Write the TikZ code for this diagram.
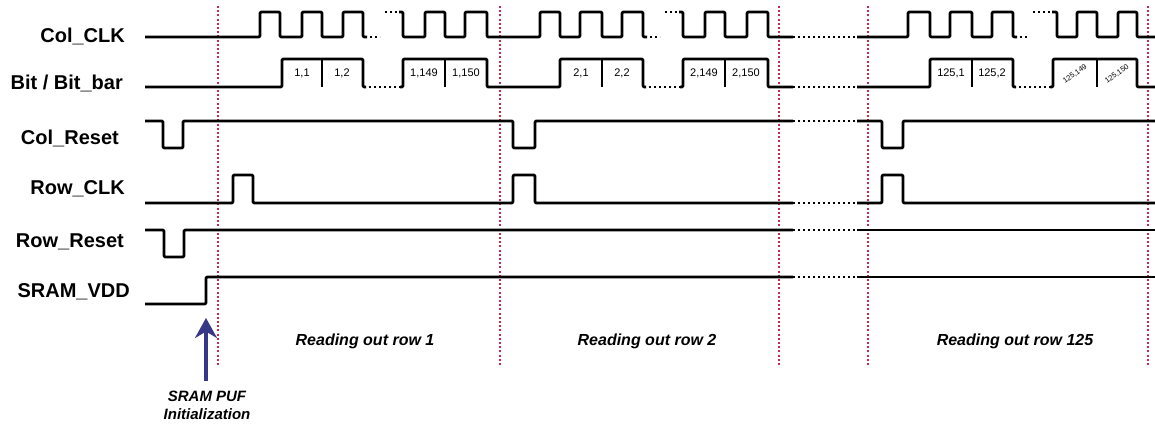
\documentclass[tikz,border=0pt]{standalone}
\usepackage{fontspec}
\setmainfont{Liberation Sans}
\usetikzlibrary{arrows.meta}
\definecolor{rowred}{RGB}{200,40,80}
\definecolor{arrowblue}{RGB}{55,55,135}
\tikzset{
  signal/.style={line width=2.8pt, line join=round, rounded corners=1.2pt},
  brk/.style={line width=2.8pt, dash pattern=on 2.4pt off 2.6pt},
  rowline/.style={rowred, line width=2pt, dash pattern=on 2pt off 2.2pt},
  siglabel/.style={anchor=base east, inner sep=0pt, font=\fontsize{20}{24}\selectfont\bfseries},
  cellnum/.style={inner sep=0pt, font=\fontsize{11}{13}\selectfont},
  cellrot/.style={inner sep=0pt, rotate=35, font=\fontsize{7.5}{9}\selectfont},
  caption/.style={inner sep=0pt, font=\fontsize{16}{19}\selectfont\bfseries\itshape},
}
\begin{document}
\begin{tikzpicture}[x=1pt, y=-1pt]
    \useasboundingbox (0,0) rectangle (1155,425);

    % 信号名称
    \node[siglabel] (lclk)   at (125,43)  {Col\_CLK};
    \node[siglabel] (lbit)   at (123,90)  {Bit / Bit\_bar};
    \node[siglabel] (lcrst)  at (119,144) {Col\_Reset};
    \node[siglabel] (lrclk)  at (125,194) {Row\_CLK};
    \node[siglabel] (lrrst)  at (124,247) {Row\_Reset};
    \node[siglabel] (lvdd)   at (130,297) {SRAM\_VDD};

    % 行分隔线（红色点线）
    \foreach \x in {218,500,779,868,1148}
        \draw[rowline] (\x,6) -- (\x,365);

    % Col_CLK
    \draw[signal] (145,37) -| (260,12) -| (280,37) -| (302,12) -| (322,37) -| (343,12) -| (363,37) -- (367,37);
    \draw[brk] (370,37) -- (380,37);
    \draw[brk] (385,12) -- (399,12);
    \draw[signal] (399,12) -| (403,37) -| (425,12) -| (445,37) -| (465,12) -| (487,37)
        -| (540,12) -| (560,37) -| (580,12) -| (602,37) -| (622,12) -| (643,37) -- (647,37);
    \draw[brk] (650,37) -- (660,37);
    \draw[brk] (665,12) -- (679,12);
    \draw[signal] (679,12) -| (683,37) -| (705,12) -| (725,37) -| (747,12) -| (768,37) -- (793,37);
    \draw[brk] (793,37) -- (857,37);
    \draw[signal] (857,37) -| (908,12) -| (930,37) -| (950,12) -| (972,37) -| (992,12) -| (1013,37) -- (1017,37);
    \draw[brk] (1020,37) -- (1028,37);
    \draw[brk] (1033,12) -- (1052,12);
    \draw[signal] (1052,12) -| (1057,37) -| (1077,12) -| (1097,37) -| (1118,12) -| (1137,37) -- (1155,37);

    % Bit / Bit_bar
    \draw[signal] (145,87) -| (282,59) -| (363,87) -- (366,87);
    \draw[brk] (369,87) -- (400,87);
    \draw[signal] (400,87) -| (403,59) -| (487,87) -| (560,59) -| (643,87) -- (646,87);
    \draw[brk] (649,87) -- (680,87);
    \draw[signal] (680,87) -| (683,59) -| (768,87) -- (793,87);
    \draw[brk] (793,87) -- (857,87);
    \draw[signal] (857,87) -| (930,59) -| (1013,87) -- (1016,87);
    \draw[brk] (1019,87) -- (1050,87);
    \draw[signal] (1050,87) -| (1053,59) -| (1137,87) -- (1155,87);
    \foreach \x in {322,445,602,725,972,1097}
        \draw[signal] (\x,87) -- (\x,59);

    % 单元编号
    \node[cellnum] (c11)   at (302,73)  {1,1};
    \node[cellnum] (c12)   at (342,73)  {1,2};
    \node[cellnum] (c1a)   at (424,73)  {1,149};
    \node[cellnum] (c1b)   at (466,73)  {1,150};
    \node[cellnum] (c21)   at (581,73)  {2,1};
    \node[cellnum] (c22)   at (622,73)  {2,2};
    \node[cellnum] (c2a)   at (704,73)  {2,149};
    \node[cellnum] (c2b)   at (746,73)  {2,150};
    \node[cellnum] (c251)  at (951,73)  {125,1};
    \node[cellnum] (c252)  at (992,73)  {125,2};
    \node[cellrot] (c25a)  at (1075,74) {125,149};
    \node[cellrot] (c25b)  at (1117,74) {125,150};

    % Col_Reset
    \draw[signal] (145,121) -| (163,148) -| (183,121) -| (513,148) -| (535,121) -- (793,121);
    \draw[brk] (793,121) -- (857,121);
    \draw[signal] (857,121) -| (882,148) -| (903,121) -- (1155,121);

    % Row_CLK
    \draw[signal] (145,203) -| (233,175) -| (253,203) -| (513,175) -| (535,203) -- (793,203);
    \draw[brk] (793,203) -- (857,203);
    \draw[signal] (857,203) -| (882,175) -| (903,203) -- (1155,203);

    % Row_Reset
    \draw[signal] (145,230) -| (164,257) -| (184,230) -- (793,230);
    \draw[brk] (793,230) -- (857,230);
    \draw[signal] (857,230) -- (1155,230);

    % SRAM_VDD
    \draw[signal] (145,304) -| (206,277) -- (793,277);
    \draw[brk] (793,277) -- (857,277);
    \draw[signal] (857,277) -- (1155,277);

    % 初始化箭头
    \coordinate (tipv) at (206,318);
    \node[caption, font=\fontsize{15}{18}\selectfont\bfseries\itshape, align=center, anchor=north] (init) at (207,391)
        {SRAM PUF\\Initialization};
    \draw[arrowblue, line width=3.5pt, -{Stealth[length=20pt, width=22pt]}] (206,381) -- (tipv);

    % 各行读出说明
    \node[caption] (rd1)   at (365,341)  {Reading out row 1};
    \node[caption] (rd2)   at (647,341)  {Reading out row 2};
    \node[caption] (rd125) at (1015,341) {Reading out row 125};

\end{tikzpicture}
\end{document}
